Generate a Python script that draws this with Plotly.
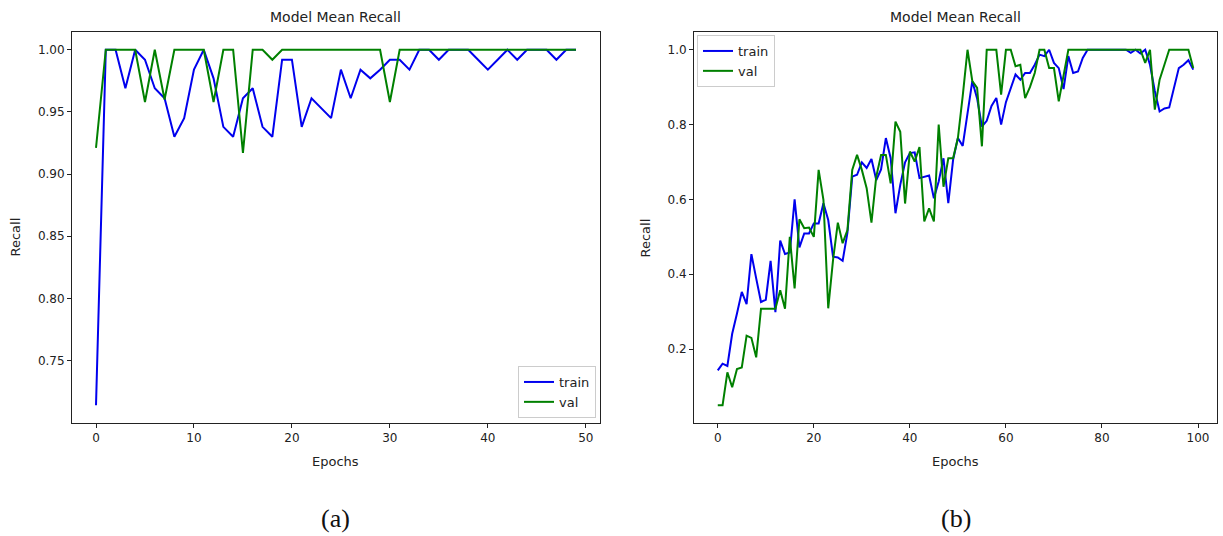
import plotly.graph_objects as go

W, H = 1223, 536

# ---------------- data ----------------
epochs_a = list(range(50))
train_a = [0.714, 1.0, 1.0, 0.969, 1.0, 0.992, 0.969, 0.961, 0.930, 0.945,
           0.984, 1.0, 0.977, 0.938, 0.930, 0.961, 0.969, 0.938, 0.930, 0.992,
           0.992, 0.938, 0.961, 0.953, 0.945, 0.984, 0.961, 0.984, 0.977, 0.984,
           0.992, 0.992, 0.984, 1.0, 1.0, 0.992, 1.0, 1.0, 1.0, 0.992,
           0.984, 0.992, 1.0, 0.992, 1.0, 1.0, 1.0, 0.992, 1.0, 1.0]
val_a = [0.921, 1.0, 1.0, 1.0, 1.0, 0.958, 1.0, 0.960, 1.0, 1.0,
         1.0, 1.0, 0.958, 1.0, 1.0, 0.917, 1.0, 1.0, 0.992, 1.0,
         1.0, 1.0, 1.0, 1.0, 1.0, 1.0, 1.0, 1.0, 1.0, 1.0,
         0.958, 1.0, 1.0, 1.0, 1.0, 1.0, 1.0, 1.0, 1.0, 1.0,
         1.0, 1.0, 1.0, 1.0, 1.0, 1.0, 1.0, 1.0, 1.0, 1.0]

epochs_b = list(range(100))
train_b = [0.143, 0.161, 0.155, 0.241, 0.295, 0.353, 0.320, 0.454, 0.389, 0.326,
           0.332, 0.436, 0.299, 0.490, 0.454, 0.458, 0.600, 0.472, 0.509, 0.509,
           0.536, 0.536, 0.590, 0.545, 0.447, 0.445, 0.436, 0.511, 0.661, 0.666,
           0.699, 0.684, 0.708, 0.652, 0.680, 0.764, 0.710, 0.563, 0.639, 0.699,
           0.724, 0.726, 0.657, 0.661, 0.664, 0.603, 0.648, 0.710, 0.590, 0.706,
           0.764, 0.743, 0.831, 0.916, 0.870, 0.795, 0.810, 0.850, 0.871, 0.800,
           0.860, 0.900, 0.934, 0.920, 0.938, 0.938, 0.960, 0.987, 0.983, 1.0,
           0.965, 0.951, 0.895, 0.983, 0.938, 0.942, 0.978, 1.0, 1.0, 1.0,
           1.0, 1.0, 1.0, 1.0, 1.0, 1.0, 0.992, 1.0, 0.990, 1.0,
           0.960, 0.890, 0.835, 0.843, 0.846, 0.900, 0.951, 0.960, 0.972, 0.947]
val_b = [0.050, 0.050, 0.138, 0.098, 0.147, 0.151, 0.236, 0.230, 0.178, 0.308,
         0.308, 0.308, 0.308, 0.357, 0.308, 0.500, 0.362, 0.547, 0.523, 0.525,
         0.500, 0.679, 0.599, 0.309, 0.438, 0.538, 0.483, 0.518, 0.679, 0.719,
         0.679, 0.630, 0.538, 0.661, 0.719, 0.719, 0.643, 0.808, 0.781, 0.589,
         0.728, 0.701, 0.740, 0.541, 0.576, 0.541, 0.800, 0.634, 0.710, 0.710,
         0.764, 0.876, 1.0, 0.916, 0.898, 0.742, 1.0, 1.0, 1.0, 0.880,
         1.0, 1.0, 0.956, 0.960, 0.871, 0.900, 0.938, 1.0, 1.0, 0.951,
         0.951, 0.862, 0.930, 1.0, 1.0, 1.0, 1.0, 1.0, 1.0, 1.0,
         1.0, 1.0, 1.0, 1.0, 1.0, 1.0, 1.0, 1.0, 1.0, 0.965,
         1.0, 0.840, 0.920, 0.960, 1.0, 1.0, 1.0, 1.0, 1.0, 0.951]

xticks_a = [0, 10, 20, 30, 40, 50]
yticks_a = [0.75, 0.80, 0.85, 0.90, 0.95, 1.00]
xticks_b = [0, 20, 40, 60, 80, 100]
yticks_b = [0.2, 0.4, 0.6, 0.8, 1.0]

title_text = "Model Mean Recall"
xlabel = "Epochs"
ylabel = "Recall"
panel_labels = ["(a)", "(b)"]

# ---------------- style ----------------
BLUE = "#0000ee"
GREEN = "#008000"
FONT = "DejaVu Sans, Liberation Sans, sans-serif"

def px_x(p):
    return p / W

def px_y(p):
    return 1 - p / H

# axes boxes in pixels
A_L, A_R = 72, 600
B_L, B_R = 694, 1217
TOP, BOT = 32, 423

fig = go.Figure()
fig.add_trace(go.Scatter(x=epochs_a, y=train_a, mode="lines", name="train",
                         line=dict(color=BLUE, width=2), xaxis="x", yaxis="y",
                         legend="legend"))
fig.add_trace(go.Scatter(x=epochs_a, y=val_a, mode="lines", name="val",
                         line=dict(color=GREEN, width=2), xaxis="x", yaxis="y",
                         legend="legend"))
fig.add_trace(go.Scatter(x=epochs_b, y=train_b, mode="lines", name="train",
                         line=dict(color=BLUE, width=2), xaxis="x2", yaxis="y2",
                         legend="legend2"))
fig.add_trace(go.Scatter(x=epochs_b, y=val_b, mode="lines", name="val",
                         line=dict(color=GREEN, width=2), xaxis="x2", yaxis="y2",
                         legend="legend2"))

axis_common = dict(showline=True, mirror=True, linecolor="#222222", linewidth=1,
                   ticks="outside", ticklen=4, tickcolor="#222222",
                   showgrid=False, zeroline=False,
                   tickfont=dict(family=FONT, size=12, color="#222222"))

def span(lo, hi):
    m = (hi - lo) * 0.05
    return [lo - m, hi + m]

legend_style = dict(bgcolor="rgba(255,255,255,0.8)", bordercolor="#cccccc",
                    borderwidth=1, font=dict(family=FONT, size=13, color="#222222"),
                    tracegroupgap=0, itemwidth=30)

fig.update_layout(
    width=W, height=H, autosize=False,
    margin=dict(l=0, r=0, t=0, b=0),
    paper_bgcolor="white", plot_bgcolor="white",
    xaxis=dict(domain=[px_x(A_L), px_x(A_R)], anchor="y",
               range=span(min(epochs_a), max(epochs_a)),
               tickvals=xticks_a, **axis_common),
    yaxis=dict(domain=[px_y(BOT), px_y(TOP)], anchor="x",
               range=span(min(train_a + val_a), max(train_a + val_a)),
               tickvals=yticks_a, tickformat=".2f", **axis_common),
    xaxis2=dict(domain=[px_x(B_L), px_x(B_R)], anchor="y2",
                range=span(min(epochs_b), max(epochs_b)),
                tickvals=xticks_b, **axis_common),
    yaxis2=dict(domain=[px_y(BOT), px_y(TOP)], anchor="x2",
                range=span(min(train_b + val_b), max(train_b + val_b)),
                tickvals=yticks_b, tickformat=".1f", **axis_common),
    legend=dict(x=px_x(596), y=px_y(418), xanchor="right", yanchor="bottom",
                **legend_style),
    legend2=dict(x=px_x(697), y=px_y(35), xanchor="left", yanchor="top",
                 **legend_style),
    showlegend=True,
)

annos = []
for (l, r), lab in zip([(A_L, A_R), (B_L, B_R)], panel_labels):
    cx = px_x((l + r) / 2)
    annos.append(dict(text=title_text, x=cx, y=px_y(17), xref="paper", yref="paper",
                      showarrow=False, xanchor="center", yanchor="middle",
                      font=dict(family=FONT, size=14, color="#222222")))
    annos.append(dict(text=xlabel, x=cx, y=px_y(461), xref="paper", yref="paper",
                      showarrow=False, xanchor="center", yanchor="middle",
                      font=dict(family=FONT, size=13, color="#222222")))
    annos.append(dict(text=lab, x=cx, y=px_y(518), xref="paper", yref="paper",
                      showarrow=False, xanchor="center", yanchor="middle",
                      font=dict(family="Liberation Serif, Times New Roman, serif",
                                size=26, color="#111111")))
for xp in (15, 645):
    annos.append(dict(text=ylabel, x=px_x(xp), y=px_y((TOP + BOT) / 2 + 10),
                      xref="paper", yref="paper", showarrow=False,
                      xanchor="center", yanchor="middle", textangle=-90,
                      font=dict(family=FONT, size=13, color="#222222")))
fig.update_layout(annotations=annos)

fig.write_html("out.html",
               config={"displayModeBar": False},
               post_script="document.body.style.margin='0px';"
                           "document.body.style.overflow='hidden';")
